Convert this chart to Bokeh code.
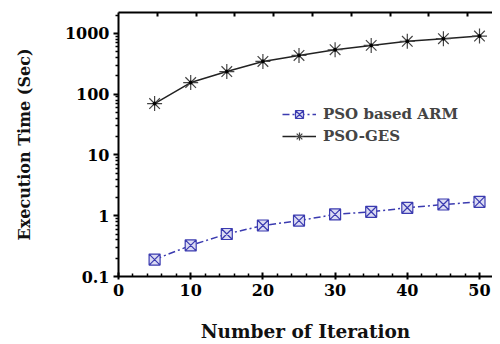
from bokeh.plotting import figure
from bokeh.models import (FixedTicker, LinearAxis, Range1d, Legend, LegendItem)
from bokeh.embed import file_html
from bokeh.resources import INLINE

iterations = [5, 10, 15, 20, 25, 30, 35, 40, 45, 50]
pso_arm = [0.19, 0.325, 0.50, 0.69, 0.83, 1.05, 1.16, 1.35, 1.53, 1.69]
pso_ges = [70, 155, 235, 345, 433, 537, 633, 738, 817, 902]
y_ticks = [0.1, 1, 10, 100, 1000]
y_tick_labels = ["0.1", "1", "10", "100", "1000"]
x_ticks = [0, 10, 20, 30, 40, 50]

FONT = "DejaVu Serif"

p = figure(width=492, height=344, y_axis_type="log",
           x_range=Range1d(0, 51.8), y_range=Range1d(0.1, 2200),
           output_backend="svg", toolbar_location=None,
           min_border_left=118, min_border_right=0, min_border_top=12,
           min_border_bottom=68)
p.outline_line_color = None
p.grid.visible = False
p.background_fill_color = "white"
p.border_fill_color = "white"

xa = p.below[0]
ya = p.left[0]

# extra top axis (frame top border with inward ticks, no labels)
p.extra_x_ranges = {"top": Range1d(0, 48.2)}
top = LinearAxis(x_range_name="top",
                 ticker=FixedTicker(ticks=[], minor_ticks=[5, 10, 15, 20, 25, 30, 35, 40, 45]))
top.major_tick_in = 0
top.major_tick_out = 0
top.minor_tick_in = 4
top.minor_tick_out = 0
top.axis_line_width = 2
top.minor_tick_line_width = 2
top.major_label_standoff = 0
p.add_layout(top, "above")

# left axis
minor = [m * t for t in [0.1, 1, 10, 100, 1000] for m in range(2, 10)]
ya.ticker = FixedTicker(ticks=y_ticks, minor_ticks=minor)
ya.major_label_overrides = {v: s for v, s in zip(y_ticks, y_tick_labels)}
ya.axis_label = "Execution Time (Sec)"
ya.major_tick_out = 5
ya.major_tick_in = 0
ya.minor_tick_out = 3
ya.minor_tick_in = 0
ya.major_label_standoff = 4
ya.axis_label_standoff = 28

# bottom axis
xa.ticker = FixedTicker(ticks=x_ticks, minor_ticks=[2, 4, 6, 8, 12, 14, 16, 18, 22, 24, 26, 28, 32, 34, 36, 38, 42, 44, 46, 48])
xa.axis_label = "Number of Iteration"
xa.major_tick_in = 4
xa.major_tick_out = 3
xa.minor_tick_in = 3
xa.minor_tick_out = 0
xa.major_label_standoff = 4
xa.axis_label_standoff = 22

for ax in [xa, ya]:
    ax.axis_line_width = 2
    ax.major_tick_line_width = 2
    ax.minor_tick_line_width = 1.5
    ax.major_label_text_font = FONT
    ax.major_label_text_font_style = "bold"
    ax.major_label_text_font_size = "16px"
    ax.major_label_text_color = "black"
    ax.axis_label_text_font = FONT
    ax.axis_label_text_font_style = "bold"
    ax.axis_label_text_color = "#111111"
xa.axis_label_text_font_size = "18.5px"
ya.axis_label_text_font_size = "16px"

blue = "#3b3bb0"
l1 = p.line(iterations, pso_arm, line_color=blue, line_width=1.5, line_dash="7 3 2 3")
m1 = p.scatter(iterations, pso_arm, marker="square_x", size=11, line_color=blue,
               fill_color="#dcdcf3", line_width=1.2)
l2 = p.line(iterations, pso_ges, line_color="#222222", line_width=1.5)
m2 = p.scatter(iterations, pso_ges, marker="asterisk", size=15, line_color="#444444", line_width=1.2)
m2b = p.scatter(iterations, pso_ges, marker="circle", size=3, line_color="black", fill_color="black")

legend = Legend(items=[LegendItem(label="PSO based ARM", renderers=[l1, m1]),
                       LegendItem(label="PSO-GES", renderers=[l2, m2])],
                location=(164, 130))
legend.background_fill_alpha = 0
legend.border_line_color = None
legend.label_text_font = FONT
legend.label_text_font_style = "bold"
legend.label_text_font_size = "15px"
legend.glyph_width = 34
legend.glyph_height = 20
legend.spacing = 2
legend.padding = 0
legend.margin = 0
legend.label_standoff = 7
p.add_layout(legend, "center")

open("out.html", "w").write(file_html(p, INLINE))
